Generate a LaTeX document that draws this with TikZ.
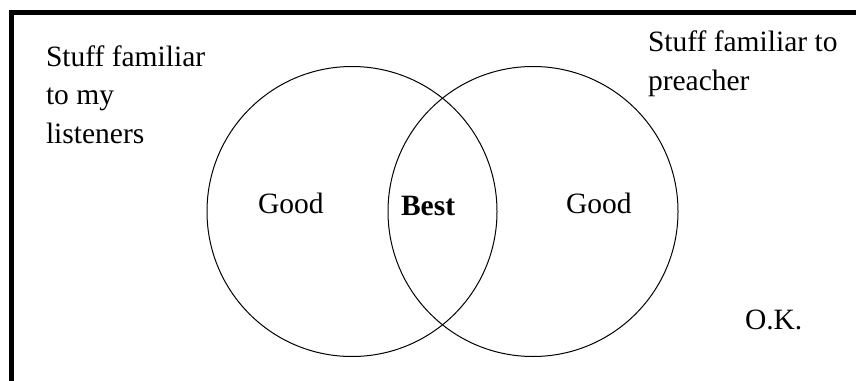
\documentclass[tikz,border=0pt]{standalone}
\usepackage{fontspec}
\setmainfont{Liberation Serif}
\begin{document}
\begin{tikzpicture}[x=1pt,y=-1pt,
  lbl/.style={inner sep=0pt,outer sep=0pt,anchor=base west,align=left,
    font=\fontsize{29.5}{38.5}\selectfont},
  setcircle/.style={draw=black,line width=1pt,circle,minimum size=290pt,inner sep=0pt}]
\useasboundingbox (0,0) rectangle (856,380);
\fill[white] (0,0) rectangle (856,380);
\draw[line width=5pt,miter limit=10] (11.5,383) -- (11.5,12.5) -- (859,12.5);
\node[setcircle] (left) at (352,211.5) {};
\node[setcircle] (right) at (533,211.5) {};
% base anchor of a multi-line node lies on its last line
\node[lbl] (listen) at (46,143) {Stuff familiar\\to my\\listeners};
\node[lbl] (preach) at (648,90) {Stuff familiar to\\preacher};
\node[lbl] (goodl) at (258,213) {Good};
\node[lbl] (best) at (401,215) {\bfseries Best};
\node[lbl] (goodr) at (566,213) {Good};
\node[lbl] (ok) at (745,329) {O.K.};
\end{tikzpicture}
\end{document}
